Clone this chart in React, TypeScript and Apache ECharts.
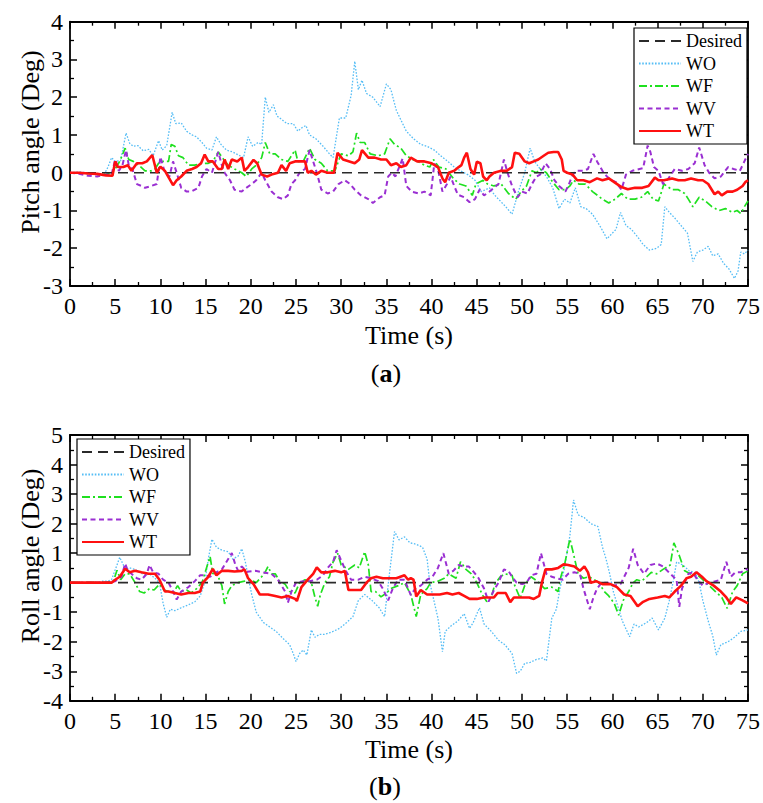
import React, { useEffect, useRef } from "react";
import * as echarts from "echarts";

const FONT = "'Liberation Serif', 'Times New Roman', serif";

const seriesNames = ["Desired", "WO", "WF", "WV", "WT"];
const xTicks = { min: 0, max: 75, interval: 5 };
const pitchTicks = { min: -3, max: 4, interval: 1 };
const rollTicks = { min: -4, max: 5, interval: 1 };

const desired = [[0, 0], [75, 0]];

const pitchWO = [[0,0],[1,0.02],[2,0.0],[3,-0.03],[3.7,-0.08],[4.2,0.15],[4.6,0.4],[5,0.3],[5.6,0.32],[6.2,1.05],[6.6,0.78],[7,0.7],[7.5,0.72],[8.1,0.58],[8.7,0.62],[9.2,0.45],[9.8,0.85],[10.2,0.6],[10.7,0.72],[11.3,1.6],[11.7,1.3],[12.3,1.32],[12.9,1.1],[13.5,1.0],[14,0.95],[14.6,0.8],[15.1,0.65],[15.7,0.6],[16.2,0.95],[16.7,0.75],[17.3,0.6],[18,0.55],[18.8,0.45],[19.2,0.4],[19.7,0.95],[20.2,0.7],[20.8,0.8],[21.2,0.75],[21.6,2.0],[22,1.6],[22.5,1.8],[22.9,1.5],[23.2,1.45],[24,1.3],[24.7,1.3],[25.2,1.1],[25.7,1.2],[26.1,1.25],[26.5,1.0],[27.2,0.9],[28,0.7],[28.7,0.5],[29.1,0.4],[29.8,1.45],[30.5,1.45],[31.1,2.05],[31.5,2.95],[31.9,2.2],[32.3,2.45],[32.8,2.1],[33.5,2.0],[34.3,1.75],[35,2.35],[35.5,2.2],[36.1,1.65],[36.8,1.3],[37.2,1.1],[38,0.9],[38.8,0.75],[39.5,0.7],[40.3,0.6],[41,0.45],[41.8,0.3],[42.5,0.15],[43.2,0.05],[44,-0.05],[44.8,-0.2],[45.5,-0.5],[46.4,-0.4],[47,-0.6],[48.2,-0.9],[48.9,-1.1],[49.6,-0.5],[50.3,0.0],[50.9,0.65],[51.4,0.3],[52,0.1],[52.7,-0.1],[53.4,-0.4],[54.1,-0.95],[54.7,-0.7],[55.3,-0.8],[55.9,-0.4],[56.5,-0.9],[57.1,-0.95],[57.8,-1.1],[58.6,-1.4],[59.4,-1.75],[60,-1.6],[60.4,-1.5],[60.9,-1.05],[61.5,-1.4],[62.1,-1.5],[62.8,-1.7],[63.4,-1.9],[64.1,-2.05],[64.9,-2.0],[65.4,-1.9],[65.8,-0.9],[66.3,-1.05],[66.9,-1.2],[67.6,-1.4],[68.3,-1.6],[68.9,-2.35],[69.4,-2.1],[70,-2.05],[70.6,-1.95],[71.1,-2.2],[71.7,-2.15],[72.3,-2.4],[72.9,-2.55],[73.5,-2.8],[73.9,-2.6],[74.2,-2.1],[74.6,-2.15],[75,-2.05]];

const pitchWF = [[0,0],[1,0],[2,-0.02],[3,-0.05],[4,-0.05],[4.6,0.0],[5,0.1],[5.5,0.3],[6.1,0.65],[6.5,0.35],[7,0.3],[7.6,0.2],[8.3,0.05],[9,0.05],[9.4,0.1],[9.8,0.25],[10.3,0.3],[10.9,0.3],[11.2,0.75],[11.6,0.7],[12,0.45],[12.5,0.4],[13.1,0.2],[13.8,0.2],[14.5,0.25],[15.3,0.25],[15.8,0.3],[16.4,0.55],[17,0.35],[17.5,0.2],[18.2,0.1],[19,0.0],[19.5,-0.1],[20.1,0.1],[20.6,0.2],[21.2,0.4],[21.6,0.8],[22.1,0.5],[22.7,0.5],[23.4,0.35],[24.1,0.3],[24.9,0.6],[25.2,0.3],[25.8,0.3],[26.5,0.65],[27.1,0.35],[27.8,0.25],[28.5,0.05],[29.3,0.05],[30,0.5],[30.8,0.45],[31.3,0.55],[31.7,1.05],[32.1,0.8],[32.6,0.8],[33.2,0.5],[34.1,0.45],[34.8,0.5],[35.4,0.9],[35.9,0.75],[36.6,0.65],[37.2,0.45],[37.9,0.35],[38.5,0.3],[39.2,0.2],[39.8,0.15],[40.2,0.35],[40.8,0.15],[41.6,0.1],[42.4,-0.15],[43.1,-0.3],[43.8,-0.35],[44.5,-0.6],[44.9,-0.3],[45.7,-0.2],[46.2,-0.3],[46.9,-0.35],[47.7,-0.3],[48.5,-0.55],[49.3,-0.7],[49.9,-0.5],[50.5,-0.35],[51.1,0.05],[51.6,0.0],[52,0.1],[52.7,0.0],[53.4,-0.25],[54.1,-0.45],[54.8,-0.45],[55.3,-0.35],[55.7,-0.2],[56.3,-0.3],[57,-0.3],[57.8,-0.5],[58.9,-0.7],[59.6,-0.8],[60.3,-0.7],[61,-0.55],[61.7,-0.7],[62.5,-0.7],[63.2,-0.65],[63.9,-0.5],[64.5,-0.7],[65.1,-0.75],[65.7,-0.3],[66.6,-0.45],[67.3,-0.45],[68,-0.55],[68.4,-0.7],[68.9,-0.9],[69.6,-0.65],[70.3,-0.75],[71,-0.9],[71.8,-1.0],[72.5,-0.95],[73.3,-1.05],[73.8,-1.0],[74.2,-1.08],[74.6,-0.9],[75,-0.75]];

const pitchWV = [[0,0],[1,-0.03],[2,-0.08],[3,-0.1],[4,-0.05],[4.6,-0.05],[5,0.35],[5.4,0.05],[5.8,0.2],[6.2,0.6],[6.5,0.2],[6.9,0.1],[7.4,-0.3],[7.9,-0.35],[8.3,-0.4],[9,-0.35],[9.6,-0.3],[10,0.42],[10.5,0.0],[11,-0.1],[11.4,0.3],[11.8,0.0],[12.3,-0.4],[12.9,-0.5],[13.4,-0.5],[14.2,-0.4],[14.6,-0.1],[15.1,0.1],[15.7,0.0],[16.4,0.55],[16.8,0.2],[17.1,0.0],[17.7,-0.2],[18.2,-0.45],[19,-0.5],[19.5,-0.4],[20.1,-0.3],[20.6,-0.2],[21.2,0.0],[21.6,-0.2],[22.3,-0.5],[23,-0.65],[23.6,-0.7],[24.1,-0.6],[24.5,-0.3],[24.9,-0.2],[25.4,0.0],[26,0.1],[26.5,0.6],[26.9,0.3],[27.3,0.0],[27.8,-0.45],[28.5,-0.55],[29.1,-0.5],[29.7,-0.3],[30.4,-0.2],[31,-0.3],[31.5,-0.45],[32.2,-0.6],[33,-0.7],[33.5,-0.8],[34.3,-0.65],[34.8,-0.6],[35.2,-0.1],[35.6,0.0],[36,-0.1],[36.8,0.38],[37.2,-0.35],[37.8,-0.5],[38.6,-0.55],[39.2,-0.5],[39.9,-0.6],[40.3,0.24],[40.7,0.1],[41.2,-0.5],[41.7,-0.3],[42.1,-0.1],[42.5,-0.35],[42.9,-0.58],[43.6,-0.65],[44.2,-0.78],[44.8,-0.7],[45.3,-0.45],[45.8,-0.6],[46.4,-0.5],[46.9,-0.4],[47.4,-0.3],[48,0.35],[48.4,0.0],[48.9,-0.35],[49.5,-0.65],[50,-0.5],[50.6,-0.55],[51.1,-0.3],[51.6,-0.1],[52,-0.05],[52.6,0.25],[53.1,0.1],[53.6,-0.2],[54.1,-0.35],[54.8,-0.5],[55.2,-0.3],[55.6,-0.05],[56,0.05],[56.8,0.05],[57.3,0.1],[57.9,0.5],[58.3,0.3],[58.9,0.05],[59.4,-0.1],[59.9,-0.2],[60.4,-0.25],[61,-0.45],[61.5,-0.05],[62.2,0.05],[63,0.1],[63.4,0.12],[63.9,0.72],[64.2,0.55],[64.6,0.15],[65.1,0.05],[65.6,-0.3],[66.2,-0.15],[66.9,0.1],[67.7,0.05],[68.4,0.1],[69.1,0.25],[69.6,0.67],[70.2,0.2],[70.7,0.0],[71.3,-0.15],[72,-0.1],[72.8,0.15],[73.4,0.1],[74.1,0.05],[74.6,0.3],[75,0.5]];

const pitchWT = [[0,0],[1,0.0],[2,-0.02],[3,-0.03],[4,-0.07],[4.7,-0.08],[5,0.3],[5.3,0.15],[5.9,0.15],[6.4,0.2],[6.8,0.05],[7.4,0.25],[8,0.25],[8.5,0.3],[9.1,0.47],[9.6,0.0],[10,0.16],[10.5,0.05],[11.1,-0.2],[11.4,-0.33],[11.8,-0.2],[12.3,-0.1],[12.9,0.05],[13.5,0.1],[14,0.15],[14.5,0.25],[14.9,0.48],[15.3,0.3],[15.8,0.3],[16.4,0.1],[16.8,0.1],[17.1,0.35],[17.5,0.1],[17.9,0.35],[18.5,0.3],[19,0.4],[19.3,0.05],[19.7,0.15],[20.3,0.34],[20.7,0.25],[21.2,-0.05],[21.8,-0.1],[22.3,-0.05],[23,0.0],[23.4,0.2],[23.9,0.05],[24.3,0.25],[24.9,0.3],[25.4,0.3],[26,0.3],[26.3,0.0],[26.7,0.05],[27.2,-0.05],[27.8,0.05],[28.5,0.0],[29.2,0.0],[29.6,0.53],[30.2,0.35],[30.9,0.3],[31.5,0.25],[32,0.35],[32.3,0.6],[33,0.4],[33.7,0.4],[34.4,0.35],[35,0.35],[35.5,0.2],[36.1,0.25],[36.6,0.15],[37.2,0.2],[37.7,0.4],[38.4,0.3],[39.2,0.3],[40,0.25],[40.7,0.15],[41.2,-0.15],[41.5,-0.25],[41.9,0.0],[42.5,0.05],[43,0.15],[43.3,0.2],[43.6,0.4],[43.9,0.53],[44.3,0.1],[44.7,-0.05],[45,0.29],[45.4,0.25],[45.7,-0.1],[46.1,-0.2],[46.4,-0.1],[46.9,0.0],[47.7,0.05],[48.3,0.05],[48.9,0.15],[49.2,0.53],[49.7,0.5],[50.3,0.3],[50.8,0.25],[51.3,0.3],[51.8,0.35],[52.4,0.45],[52.9,0.53],[53.5,0.55],[54,0.55],[54.4,0.35],[54.6,0.05],[55,0.0],[55.6,-0.05],[56.1,-0.2],[56.8,-0.2],[57.5,-0.25],[58.3,-0.15],[58.9,-0.2],[59.6,-0.15],[60.2,-0.25],[61,-0.38],[61.7,-0.44],[62.5,-0.4],[63.3,-0.4],[64,-0.35],[64.7,-0.13],[65.1,-0.2],[65.7,-0.2],[66.6,-0.15],[67.3,-0.2],[68,-0.2],[68.7,-0.15],[69.5,-0.2],[70,-0.2],[70.6,-0.3],[71.3,-0.57],[71.7,-0.5],[72.1,-0.6],[72.7,-0.5],[73.3,-0.5],[73.8,-0.45],[74.4,-0.35],[74.7,-0.25],[75,-0.2]];

const rollWO = [[0,0],[1,0],[2,0],[3,0.02],[3.6,0.05],[4.2,0.05],[4.6,0.1],[5.2,0.6],[5.5,0.86],[5.9,0.6],[6.3,0.45],[6.6,0.5],[7.2,0.45],[7.7,0.35],[8.3,0.25],[8.8,0.3],[9.4,0.15],[9.9,0.0],[10.3,-0.7],[10.7,-1.17],[11.1,-0.9],[11.6,-0.95],[12.3,-0.85],[13.1,-0.75],[13.8,-0.65],[14.4,-0.45],[14.9,0.0],[15.3,0.8],[15.7,1.47],[16.2,1.2],[16.8,1.1],[17.5,1.05],[18,0.8],[18.6,0.9],[19,1.15],[19.4,0.7],[19.7,0.2],[20.1,-0.4],[20.6,-1.0],[21.4,-1.35],[22.1,-1.5],[22.8,-1.65],[23.6,-1.9],[24.3,-2.1],[24.7,-2.4],[25,-2.67],[25.4,-2.4],[25.8,-2.28],[26.2,-2.45],[26.7,-1.6],[27.1,-1.85],[27.6,-1.75],[28.2,-1.75],[28.7,-1.7],[29.1,-1.65],[29.8,-1.55],[30.6,-1.35],[31.3,-1.15],[31.9,-0.6],[32.6,-0.4],[33.4,-0.6],[34.2,-0.85],[34.8,-1.15],[35.3,0.2],[35.9,1.73],[36.4,1.45],[37,1.55],[37.6,1.35],[38.3,1.3],[39,1.2],[39.5,0.8],[39.8,0.0],[40.7,-1.2],[41.2,-2.34],[41.5,-1.65],[42.2,-1.45],[42.9,-1.3],[43.6,-1.05],[44.2,-1.55],[44.6,-1.35],[45.3,-0.85],[45.8,-1.4],[46.6,-1.65],[47.4,-1.95],[48.1,-2.1],[48.9,-2.4],[49.4,-3.07],[49.8,-3.0],[50.3,-2.73],[50.9,-2.7],[51.6,-2.6],[52.3,-2.55],[52.7,-2.65],[53.3,-1.2],[53.8,-0.9],[54.2,-0.2],[54.7,0.5],[55.3,1.6],[55.7,2.8],[56.2,2.3],[56.9,2.2],[57.6,2.0],[58.4,1.9],[58.9,1.2],[59.3,0.8],[59.7,0.3],[60.1,-0.3],[60.5,-0.7],[61.1,-1.3],[61.9,-1.83],[62.4,-1.4],[62.9,-1.5],[63.8,-1.35],[64.4,-1.2],[65.1,-1.6],[65.8,-1.2],[66.3,-0.6],[66.7,0.0],[67.1,0.7],[67.8,0.6],[68.5,0.4],[69.2,0.34],[69.6,0.0],[70,-0.6],[70.6,-1.3],[71.1,-1.8],[71.5,-2.45],[72,-2.1],[72.8,-2.0],[73.5,-1.85],[74.2,-1.65],[75,-1.6]];

const rollWF = [[0,0],[1,0],[2,0],[3,0],[4,0],[4.8,0.05],[5.2,0.42],[5.6,0.1],[6.1,0.3],[6.6,0.3],[7.2,0.0],[7.7,-0.3],[8.2,-0.35],[8.8,-0.2],[9.3,-0.25],[9.9,-0.05],[10.4,-0.25],[10.9,-0.3],[11.4,-0.35],[11.9,-0.1],[12.3,-0.3],[12.9,-0.25],[13.4,-0.35],[14,-0.2],[14.6,0.0],[15.1,0.5],[15.5,0.88],[15.8,0.3],[16.2,0.35],[16.8,-0.1],[17.1,-0.72],[17.5,-0.3],[17.9,-0.1],[18.6,0.0],[19.3,0.05],[19.9,0.1],[20.6,0.0],[21.2,0.2],[21.5,0.3],[21.9,0.55],[22.3,0.3],[22.7,0.3],[23.2,0.05],[23.8,-0.05],[24.3,-0.3],[24.9,-0.35],[25.4,0.0],[26,0.1],[26.7,0.0],[27.1,-0.5],[27.4,-0.8],[27.7,-0.4],[28.2,0.0],[28.7,0.2],[29.1,0.7],[29.6,1.0],[30,0.6],[30.8,0.45],[31.5,0.6],[32,0.5],[32.6,1.05],[33,0.6],[33.3,-0.3],[33.8,-0.3],[34.4,-0.48],[35,-0.35],[35.5,-0.2],[36.3,-0.1],[37,0.0],[37.7,-0.4],[38.3,-1.15],[38.8,-0.4],[39.5,-0.2],[39.9,0.0],[40.7,0.05],[41.4,0.15],[41.9,0.3],[42.7,0.15],[43.2,0.71],[43.8,0.45],[44.4,0.3],[45,0.0],[45.6,-0.4],[46.1,-0.64],[46.6,-0.5],[47,-0.05],[47.6,0.2],[48.1,0.3],[48.9,0.25],[49.2,-0.1],[49.8,-0.53],[50.3,-0.1],[50.7,0.1],[51,0.2],[51.7,0.05],[52.5,-0.2],[53.3,-0.15],[54,-0.3],[54.3,0.2],[54.7,0.6],[55.3,1.48],[55.6,1.1],[56.2,0.3],[56.8,0.15],[57.4,0.2],[58,0.1],[58.5,0.0],[59.1,-0.3],[59.6,-0.45],[60.2,-0.7],[60.7,-1.1],[61.2,-0.6],[61.8,-0.3],[62.3,0.0],[62.7,0.1],[63.2,0.05],[63.8,0.2],[64.3,0.35],[64.9,0.3],[65.6,0.45],[66.4,0.6],[66.8,1.35],[67.3,1.0],[68,0.4],[68.6,0.3],[69.3,0.3],[70,0.1],[70.7,-0.1],[71.4,-0.3],[72.1,-0.5],[72.7,-0.87],[73.3,-0.3],[73.8,-0.1],[74.4,0.3],[75,0.4]];

const rollWV = [[0,0],[1,0],[2,0],[3,0],[4,0],[5,0.05],[5.7,0.2],[6.1,0.65],[6.4,0.4],[6.8,0.3],[7.4,0.15],[7.9,0.1],[8.5,0.3],[8.8,0.6],[9.2,0.35],[9.8,0.3],[10.3,0.1],[10.9,0.0],[11.4,-0.3],[11.8,-0.57],[12.3,-0.3],[13.1,-0.15],[13.8,0.05],[14.4,0.25],[14.9,0.25],[15.5,0.2],[16.2,0.35],[16.8,0.45],[17.5,0.8],[17.9,1.0],[18.3,0.6],[18.6,0.4],[19,0.55],[19.6,0.37],[20.5,0.4],[21.3,0.35],[22.3,0.3],[23,0.1],[23.8,-0.3],[24.1,-0.68],[24.5,-0.3],[25,0.0],[25.8,0.05],[26.5,0.05],[27.3,0.1],[28,0.25],[28.5,0.5],[29.1,0.7],[29.5,1.1],[30,0.75],[30.5,0.4],[31.1,0.1],[31.9,0.1],[32.6,0.2],[33.3,0.15],[34.1,0.05],[34.6,-0.2],[35.2,-0.6],[35.7,-0.2],[36.3,0.1],[37,0.1],[37.4,-0.2],[37.7,-0.42],[38.2,-0.2],[38.8,-0.1],[39.5,0.1],[40.1,0.2],[40.7,0.5],[41.3,1.0],[41.9,0.3],[42.4,0.4],[43,0.6],[43.5,0.55],[44.1,0.55],[44.7,0.35],[45.2,0.15],[45.8,-0.2],[46.3,-0.64],[46.9,-0.25],[47.4,0.0],[48,0.45],[48.5,0.4],[48.9,0.2],[49.4,0.0],[50,-0.05],[50.5,0.0],[51,0.25],[51.6,0.3],[52.1,1.0],[52.7,0.3],[53.3,0.2],[53.8,0.15],[54.5,0.1],[55.1,0.3],[55.8,0.35],[56.4,0.3],[56.8,-0.2],[57.5,-0.9],[57.9,-0.5],[58.3,-0.2],[58.8,0.0],[59.5,0.0],[60.1,-0.1],[60.9,-0.05],[61.3,0.2],[61.8,0.5],[62.3,1.15],[62.8,0.6],[63.5,0.3],[64.2,0.6],[64.9,0.65],[65.6,0.55],[66.4,0.3],[67.1,0.1],[67.4,-0.82],[67.7,-0.2],[68.4,0.3],[68.9,0.35],[69.4,0.1],[70,-0.1],[70.7,0.0],[71.4,0.05],[72,0.1],[72.6,0.71],[73.1,0.2],[73.6,0.35],[74.2,0.35],[74.8,0.45],[75,0.45]];

const rollWT = [[0,0],[1,0],[2,0],[3,0],[4,0],[4.6,0.0],[5,0.1],[5.5,0.2],[6.1,0.47],[6.6,0.35],[7.2,0.4],[7.9,0.35],[8.7,0.3],[9.4,0.3],[9.9,0.1],[10.5,-0.3],[10.9,-0.3],[11.6,-0.35],[12.3,-0.4],[13.1,-0.35],[13.8,-0.35],[14.4,-0.3],[14.7,0.0],[15.3,0.2],[15.8,0.47],[16.2,0.25],[16.8,0.4],[17.5,0.4],[18.2,0.38],[19,0.4],[19.3,0.45],[19.7,0.15],[20.3,-0.05],[21,-0.4],[21.9,-0.4],[22.7,-0.45],[23.4,-0.5],[24.1,-0.45],[24.9,-0.55],[25.1,-0.62],[25.6,-0.15],[26.3,0.1],[26.9,0.3],[27.3,0.52],[27.8,0.35],[28.5,0.35],[29.3,0.4],[30,0.35],[30.4,0.4],[30.8,-0.25],[31.5,-0.25],[32.2,-0.25],[32.8,0.0],[33.3,0.15],[33.9,0.2],[34.6,0.15],[35.4,0.15],[36.1,0.15],[37,0.25],[37.4,0.1],[37.7,0.15],[38,0.1],[38.3,-0.47],[38.8,-0.25],[39.5,-0.4],[40.2,-0.4],[40.9,-0.4],[41.7,-0.35],[42.3,-0.4],[43,-0.35],[43.6,-0.45],[44.2,-0.55],[45,-0.55],[45.8,-0.5],[46.3,-0.5],[46.9,-0.5],[47.3,-0.35],[47.8,-0.35],[48.2,-0.35],[48.7,-0.66],[49.1,-0.5],[49.7,-0.5],[50.2,-0.5],[50.8,-0.5],[51.3,-0.55],[51.9,-0.45],[52.2,0.0],[52.6,0.45],[53.3,0.45],[54,0.5],[54.6,0.62],[55.1,0.6],[55.8,0.55],[56.4,0.4],[56.9,0.55],[57.3,0.35],[57.6,0.0],[58.2,0.05],[58.9,-0.05],[59.8,-0.05],[60.5,-0.15],[61.3,-0.4],[62,-0.45],[62.8,-0.8],[63.4,-0.65],[64.1,-0.55],[65,-0.5],[65.8,-0.45],[66.3,-0.5],[66.9,-0.3],[67.6,-0.1],[68.2,0.15],[68.7,0.2],[69.3,0.35],[69.9,0.2],[70.4,0.05],[71.2,-0.1],[72,-0.3],[72.6,-0.5],[73.1,-0.72],[73.7,-0.5],[74.4,-0.6],[75,-0.7]];

const lineStyles: Record<string, any> = {
  Desired: { color: "#2a2a2a", width: 1.6, type: [10, 6] },
  WO: { color: "#55bdf5", width: 1.3, type: [1.6, 1.6] },
  WF: { color: "#1fe01f", width: 1.7, type: [8, 3, 2, 3] },
  WV: { color: "#9a2fd2", width: 2, type: [5, 3.5] },
  WT: { color: "#ff1010", width: 2.6, type: "solid" },
};

function makeSeries(name: string, data: number[][], xi: number, yi: number) {
  const ls = lineStyles[name];
  return {
    name,
    type: "line",
    data,
    xAxisIndex: xi,
    yAxisIndex: yi,
    symbol: "none",
    showSymbol: false,
    color: ls.color,
    lineStyle: { ...ls },
    itemStyle: { color: ls.color },
    z: name === "WT" ? 5 : name === "Desired" ? 4 : 3,
    silent: true,
  };
}

function xAxisPair(gridIndex: number) {
  const common = {
    type: "value",
    gridIndex,
    min: xTicks.min,
    max: xTicks.max,
    interval: xTicks.interval,
    splitLine: { show: false },
    axisLine: { show: true, onZero: false, lineStyle: { color: "#000", width: 1.8 } },
    axisTick: { show: true, inside: true, length: 7, lineStyle: { color: "#000", width: 1.5 } },
    minorTick: { show: true, splitNumber: 2, length: 4, lineStyle: { color: "#000", width: 1.3 } },
    minorSplitLine: { show: false },
  };
  return [
    {
      ...common,
      position: "bottom",
      axisLabel: { show: true, color: "#000", fontSize: 24, fontFamily: FONT, margin: 8 },
      name: "Time (s)",
      nameLocation: "middle",
      nameGap: 36,
      nameTextStyle: { color: "#000", fontSize: 26, fontFamily: FONT },
    },
    { ...common, position: "top", axisLabel: { show: false } },
  ];
}

function yAxisPair(gridIndex: number, ticks: { min: number; max: number; interval: number }) {
  const common = {
    type: "value",
    gridIndex,
    min: ticks.min,
    max: ticks.max,
    interval: ticks.interval,
    splitLine: { show: false },
    axisLine: { show: true, onZero: false, lineStyle: { color: "#000", width: 1.8 } },
    axisTick: { show: true, inside: true, length: 7, lineStyle: { color: "#000", width: 1.5 } },
    minorTick: { show: true, splitNumber: 2, length: 4, lineStyle: { color: "#000", width: 1.3 } },
    minorSplitLine: { show: false },
  };
  return [
    {
      ...common,
      position: "left",
      axisLabel: { show: true, color: "#000", fontSize: 24, fontFamily: FONT, margin: 7 },
    },
    { ...common, position: "right", axisLabel: { show: false } },
  ];
}

function legendAt(left: number, top: number) {
  return {
    show: true,
    orient: "vertical",
    left,
    top,
    data: seriesNames,
    itemWidth: 42,
    itemHeight: 14,
    itemGap: 4.5,
    padding: [4, 5, 4, 4],
    borderColor: "#000",
    borderWidth: 1.2,
    borderRadius: 0,
    backgroundColor: "#fff",
    selectedMode: false,
    itemStyle: { opacity: 0 },
    textStyle: { color: "#000", fontSize: 18, fontFamily: FONT },
    z: 20,
  };
}

function titleText(x: number, y: number, letter: string) {
  return {
    type: "text",
    x,
    y,
    z: 30,
    style: {
      text: "({b|" + letter + "})",
      fontSize: 26,
      fontFamily: FONT,
      fill: "#000",
      align: "center",
      verticalAlign: "middle",
      textAlign: "center",
      textVerticalAlign: "middle",
      rich: { b: { fontSize: 26, fontFamily: FONT, fontWeight: "bold", fill: "#000", color: "#000" } },
    },
  };
}

function yTitle(x: number, y: number, text: string) {
  return {
    type: "text",
    x,
    y,
    rotation: Math.PI / 2,
    z: 30,
    style: {
      text,
      fontSize: 26,
      fontFamily: FONT,
      fill: "#000",
      align: "center",
      verticalAlign: "middle",
      textAlign: "center",
      textVerticalAlign: "middle",
    },
  };
}

export default function App() {
  const ref = useRef<HTMLDivElement>(null);
  useEffect(() => {
    if (!ref.current) return;
    const chart = echarts.init(ref.current, null, { renderer: "svg" });
    const pitchData: Record<string, number[][]> = { Desired: desired, WO: pitchWO, WF: pitchWF, WV: pitchWV, WT: pitchWT };
    const rollData: Record<string, number[][]> = { Desired: desired, WO: rollWO, WF: rollWF, WV: rollWV, WT: rollWT };
    const option: any = {
      animation: false,
      backgroundColor: "#fff",
      grid: [
        { left: 70, top: 21.7, width: 679, height: 264.3 },
        { left: 70, top: 435, width: 679, height: 265.8 },
      ],
      xAxis: [...xAxisPair(0), ...xAxisPair(1)],
      yAxis: [...yAxisPair(0, pitchTicks), ...yAxisPair(1, rollTicks)],
      legend: [legendAt(634, 28), legendAt(77, 439)],
      series: [
        ...seriesNames.map((n) => makeSeries(n, pitchData[n], 0, 0)),
        ...seriesNames.map((n) => makeSeries(n, rollData[n], 2, 2)),
      ],
      graphic: [
        yTitle(30, 142, "Pitch angle (Deg)"),
        yTitle(30, 556, "Roll angle (Deg)"),
        titleText(386, 373, "a"),
        titleText(385, 786, "b"),
      ],
    };
    chart.setOption(option);
    return () => chart.dispose();
  }, []);
  return (
    <div
      ref={ref}
      style={{ position: "absolute", left: 0, top: 0, width: 763, height: 803, background: "#fff" }}
    />
  );
}
